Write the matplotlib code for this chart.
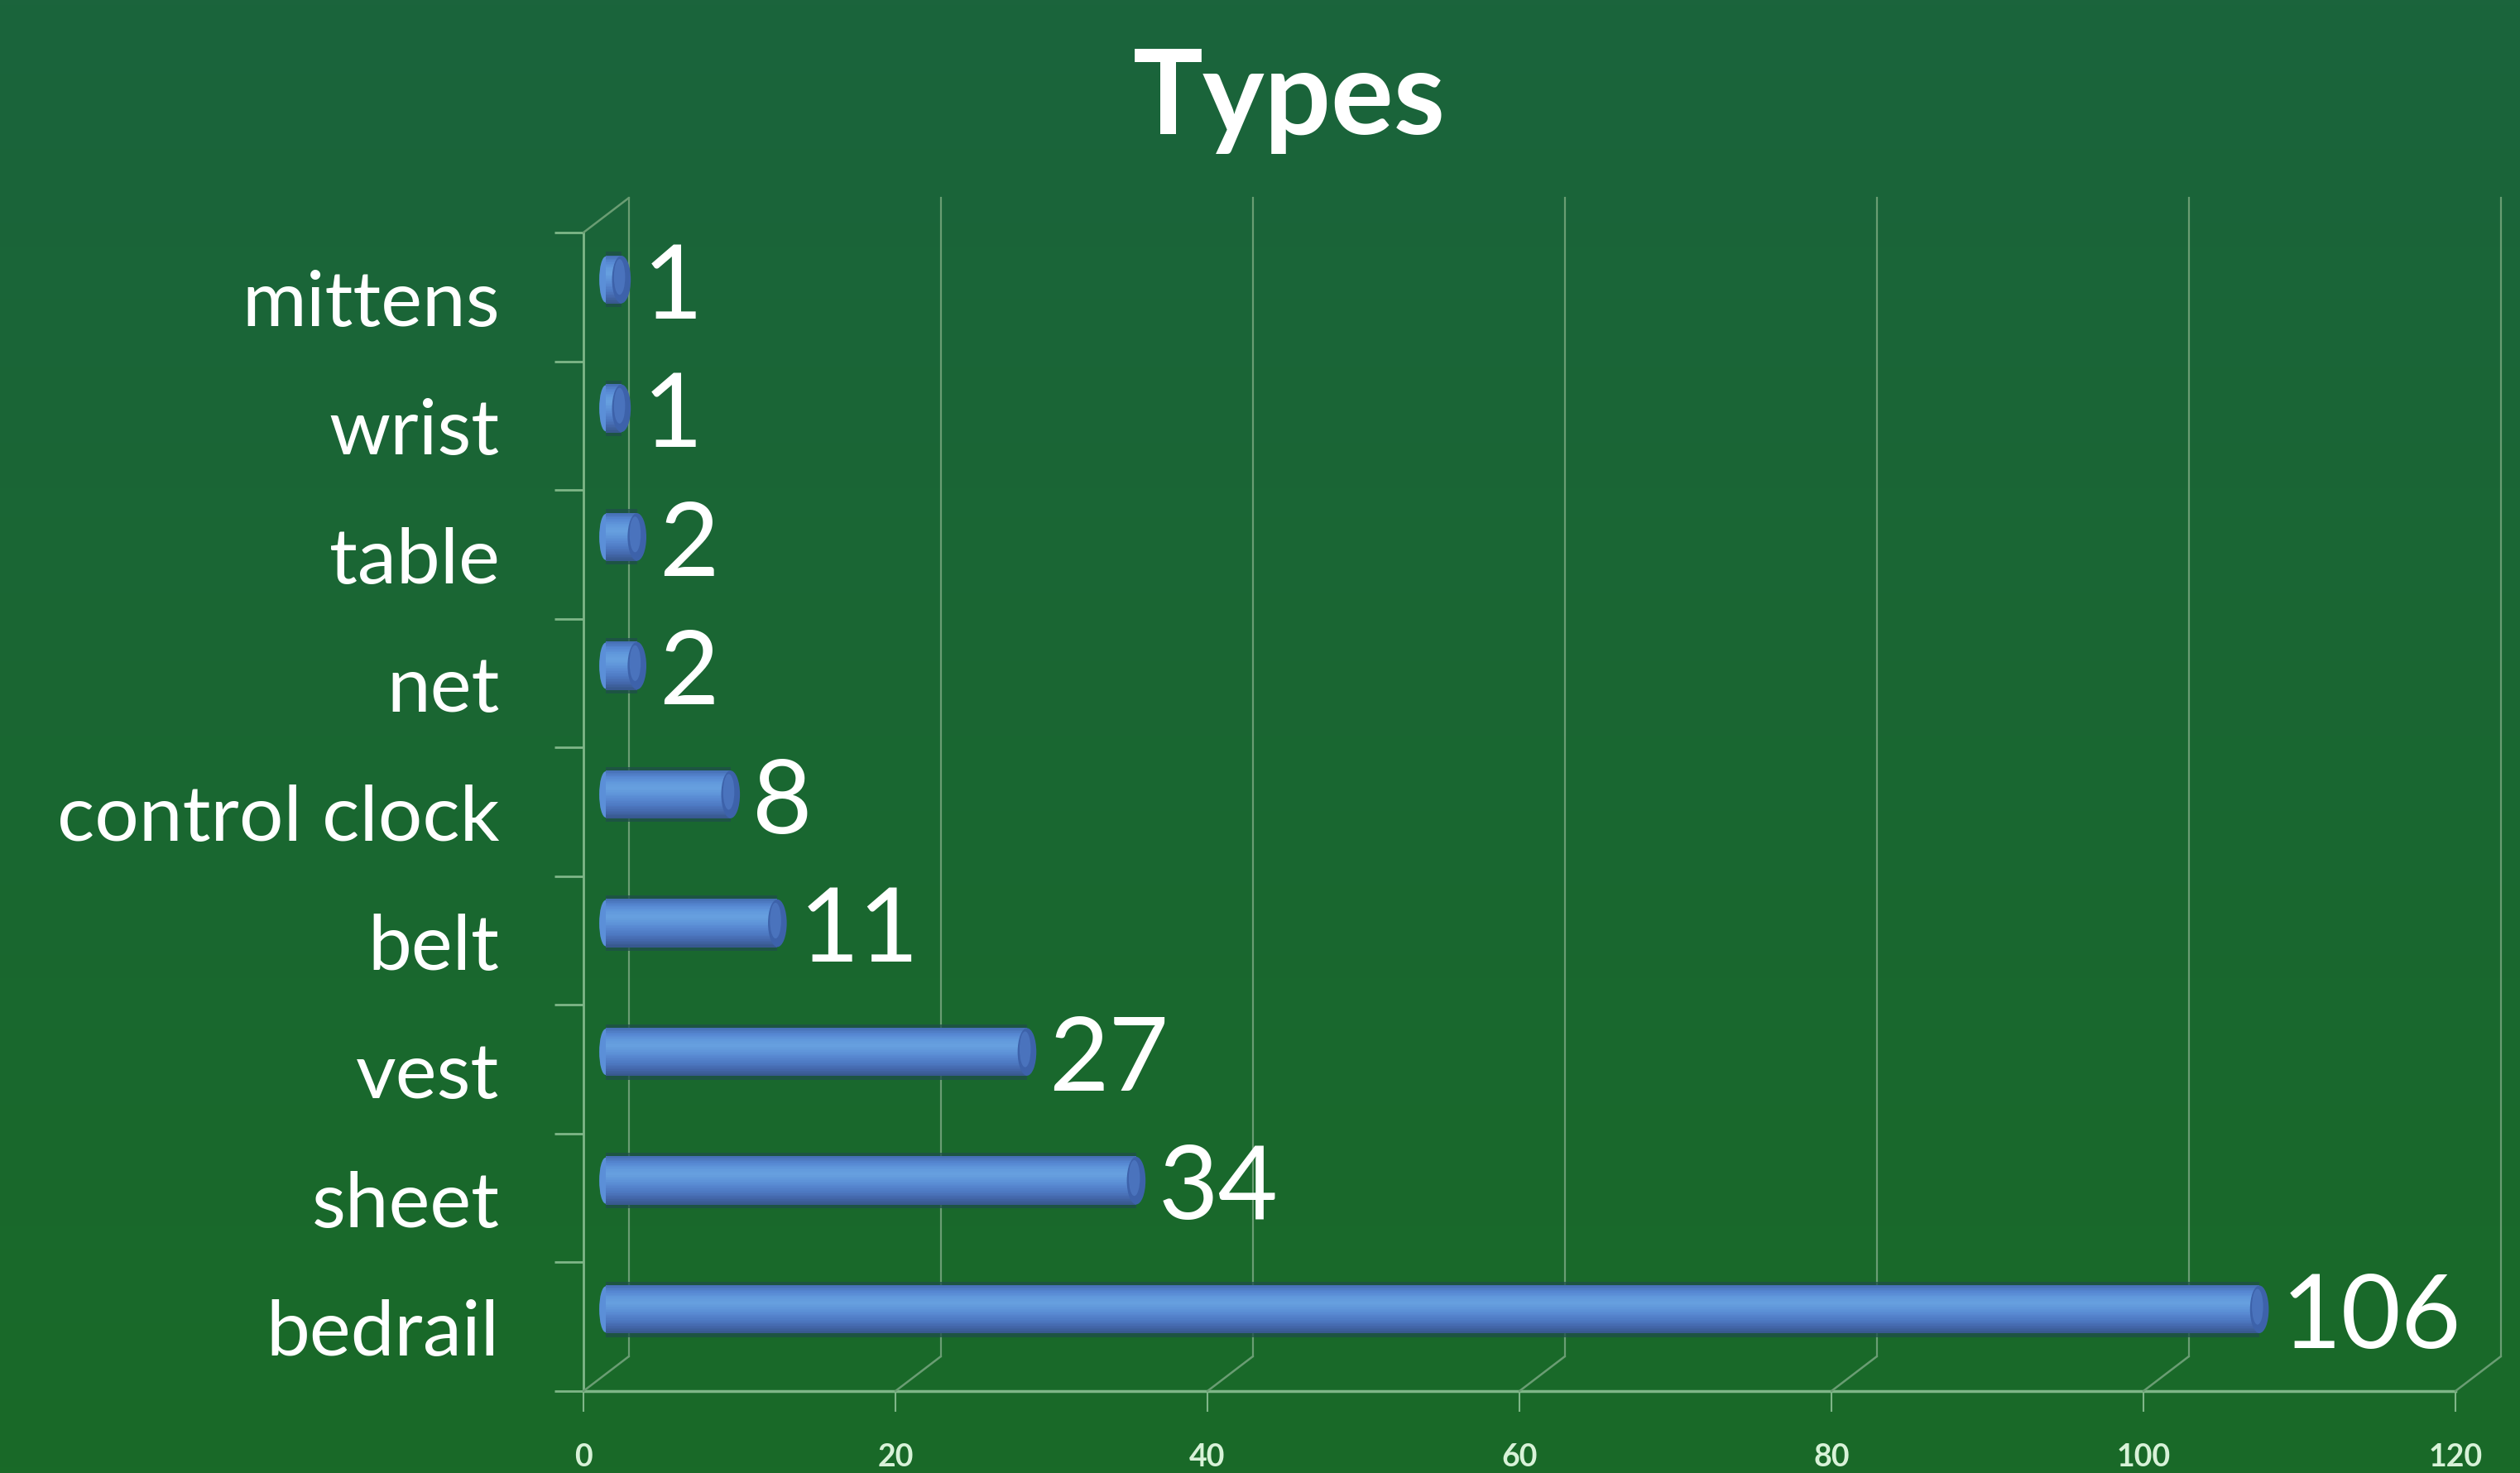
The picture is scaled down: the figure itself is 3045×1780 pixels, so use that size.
import numpy as np
import matplotlib
matplotlib.use("Agg")
import matplotlib.pyplot as plt
from matplotlib.transforms import offset_copy
from matplotlib.patches import ConnectionPatch, Ellipse
from matplotlib.colors import LinearSegmentedColormap

# ---- data ----
title = "Types"
categories = ["bedrail", "sheet", "vest", "belt", "control clock", "net", "table", "wrist", "mittens"]
values = [106, 34, 27, 11, 8, 2, 2, 1, 1]
xticks = [0, 20, 40, 60, 80, 100, 120]

W, H, DPI = 3045, 1781, 100
fig = plt.figure(figsize=(W / DPI, H / DPI), dpi=DPI)

# background gradient
bg = fig.add_axes([0, 0, 1, 1], zorder=-5)
bg_cmap = LinearSegmentedColormap.from_list("bg", [(27/255, 100/255, 60/255), (25/255, 106/255, 40/255)])
bg.imshow(np.linspace(0, 1, 256).reshape(-1, 1), cmap=bg_cmap, aspect="auto", extent=[0, 1, 0, 1])
bg.set_axis_off()

# front plane of the plot
left, right, top, bottom = 705, 2967, 282, 1682
ax = fig.add_axes([left / W, 1 - bottom / H, (right - left) / W, (bottom - top) / H])
ax.set_facecolor("none")
n = len(categories)
ax.set_xlim(0, 120)
ax.set_ylim(-0.5, n - 0.5)

grid_col = "#6a9d73"
front_col = "#7fb688"
txt_font = ["Lato", "DejaVu Sans"]

back = offset_copy(ax.transData, fig=fig, x=55, y=42, units="dots")
mid = offset_copy(ax.transData, fig=fig, x=27, y=21, units="dots")

# spines
for s in ["top", "right"]:
    ax.spines[s].set_visible(False)
ax.spines["left"].set_color(front_col)
ax.spines["left"].set_linewidth(2.0)
ax.spines["bottom"].set_color(front_col)
ax.spines["bottom"].set_linewidth(2.5)

# back-wall gridlines and floor diagonals
for x in xticks:
    ax.plot([x, x], [-0.5, n - 0.5], transform=back, color=grid_col, lw=1.6, clip_on=False, zorder=1)
    cp = ConnectionPatch(xyA=(x, -0.5), coordsA=ax.transData, xyB=(x, -0.5), coordsB=back,
                         arrowstyle="-", color=grid_col, lw=1.8, zorder=1)
    fig.add_artist(cp)
# top-left wall edge
cp = ConnectionPatch(xyA=(0, n - 0.5), coordsA=ax.transData, xyB=(0, n - 0.5), coordsB=back,
                     arrowstyle="-", color=grid_col, lw=1.8, zorder=1)
fig.add_artist(cp)

# ticks
ax.set_xticks(xticks)
ax.set_xticklabels([str(t) for t in xticks], fontsize=27, fontweight="bold", color="#d8f2d8", family=txt_font)
ax.tick_params(axis="x", length=18, width=1.5, color=front_col, pad=27)
ax.set_yticks(np.arange(n))
ax.set_yticklabels(categories, fontsize=68, color="white", family=txt_font)
ax.tick_params(axis="y", which="major", length=0, pad=73)
ax.set_yticks(np.arange(-0.5, n, 1.0), minor=True)
ax.tick_params(axis="y", which="minor", length=25, width=2.0, color=front_col)

# bars (cylinders) with smooth gradient stripes
bar_h = 0.37
shadow = ax.barh(np.arange(n), values, height=bar_h + 0.06, color="#1f4e4a", alpha=0.75, zorder=2, linewidth=0)
for p in shadow:
    p.set_transform(mid)
bar_cmap = LinearSegmentedColormap.from_list(
    "cyl", ["#4670b5", "#5687d2", "#6199dc", "#67a0df", "#5f95d9", "#5686cf", "#4d78c1", "#4468ac", "#38598f"])
ns = 40
for k in range(ns):
    c = bar_cmap(k / (ns - 1))
    yc = np.arange(n) + (0.5 - (k + 0.5) / ns) * bar_h
    bars = ax.barh(yc, values, height=bar_h / ns * 1.6, color=c, zorder=3 + k * 0.001, linewidth=0)
    for p in bars:
        p.set_transform(mid)
# end caps
cap_w = 1.2
for i, v in enumerate(values):
    e = Ellipse((v, i), cap_w, bar_h, transform=mid, facecolor="#3d62aa", edgecolor="none", zorder=4)
    ax.add_patch(e)
    e2 = Ellipse((v - 0.12, i + 0.02), cap_w * 0.6, bar_h * 0.75, transform=mid, facecolor="#4a73bd",
                 edgecolor="none", zorder=4)
    ax.add_patch(e2)
    e0 = Ellipse((0, i), cap_w * 0.7, bar_h * 0.97, transform=mid, facecolor="#5b8fd8", edgecolor="none", zorder=2.9)
    ax.add_patch(e0)

# value labels
for i, v in enumerate(values):
    ax.annotate(str(v), xy=(v, i), xycoords=mid, xytext=(19, -33), textcoords="offset points",
                ha="left", va="baseline", fontsize=90, color="white", family=txt_font, zorder=6)

# title
fig.text(1558 / W, 1 - 162 / H, title, ha="center", va="baseline", fontsize=102,
         fontweight="bold", color="white", family=txt_font)

fig.savefig("out.png", dpi=DPI)
